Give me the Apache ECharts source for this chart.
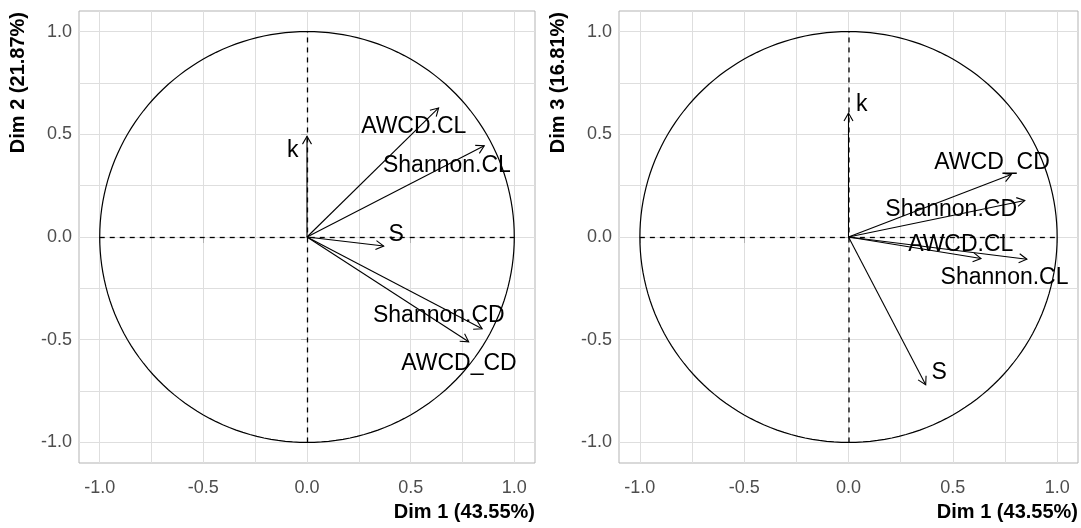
<!DOCTYPE html>
<html>
<head>
<meta charset="utf-8">
<script src="https://cdn.jsdelivr.net/npm/echarts@6/dist/echarts.min.js"></script>
<style>
html,body{margin:0;padding:0;background:#fff;}
#chart{width:1081px;height:528px;}
</style>
</head>
<body>
<div id="chart"></div>
<script>
// ---- data ----
const variables = ['k', 'AWCD.CL', 'Shannon.CL', 'S', 'Shannon.CD', 'AWCD_CD'];
const dim1 = [0.00, 0.635, 0.855, 0.37, 0.845, 0.78];
const dim2 = [0.49, 0.628, 0.444, -0.044, -0.447, -0.51];
const dim3 = [0.603, -0.105, -0.108, -0.719, 0.178, 0.304];
// label anchor positions (data units) as placed in the figure
const labelDim1Left = [-0.069, 0.515, 0.675, 0.43, 0.636, 0.733];
const labelDim2 = [0.42, 0.537, 0.345, 0.01, -0.385, -0.615];
const labelDim1Right = [0.064, 0.538, 0.748, 0.435, 0.492, 0.688];
const labelDim3 = [0.642, -0.036, -0.2, -0.662, 0.133, 0.362];
// axes
const majorTicks = [-1, -0.5, 0, 0.5, 1];
const minorTicks = [-0.75, -0.25, 0.25, 0.75];
const tickLabels = ['-1.0', '-0.5', '0.0', '0.5', '1.0'];
const xTitles = ['Dim 1 (43.55%)', 'Dim 1 (43.55%)'];
const yTitles = ['Dim 2 (21.87%)', 'Dim 3 (16.81%)'];
const axisMin = -1.1, axisMax = 1.1;

const FONT = 'Liberation Sans, Arial, sans-serif';
const gridValues = majorTicks.concat(minorTicks).sort((a, b) => a - b);

const chart = echarts.init(document.getElementById('chart'), null, {renderer: 'canvas'});

const grids = [
  {left: 79, top: 11, width: 456, height: 452},
  {left: 619, top: 11, width: 459, height: 452}
];

function mainAxis(g, pos) {
  return {
    gridIndex: g, type: 'value', min: axisMin, max: axisMax, position: pos,
    axisLine: {show: false},
    axisTick: {show: false, customValues: gridValues},
    axisLabel: {show: false},
    splitLine: {show: true, lineStyle: {color: '#dedede', width: 1}}
  };
}
function overlayAxis(g, pos) {
  return {
    gridIndex: g, type: 'value', min: axisMin, max: axisMax, position: pos, offset: 0,
    axisLine: {show: false},
    axisTick: {show: true, length: 6, customValues: majorTicks, lineStyle: {color: '#b3b3b3', width: 1}},
    axisLabel: {
      show: true, customValues: majorTicks,
      formatter: v => tickLabels[majorTicks.findIndex(t => Math.abs(t - v) < 1e-9)],
      color: '#4d4d4d', fontSize: 18, fontFamily: FONT,
      margin: pos === 'bottom' ? 16 : 7
    },
    splitLine: {show: false}
  };
}

const xAxes = [mainAxis(0, 'bottom'), overlayAxis(0, 'bottom'), mainAxis(1, 'bottom'), overlayAxis(1, 'bottom')];
const yAxes = [mainAxis(0, 'left'), overlayAxis(0, 'left'), mainAxis(1, 'left'), overlayAxis(1, 'left')];

function circleSeries(ai) {
  return {
    type: 'custom', xAxisIndex: ai, yAxisIndex: ai, silent: true, z: 3,
    data: [[0, 0]],
    renderItem: function (params, api) {
      const pts = [];
      for (let d = 0; d <= 360; d += 2) {
        const t = d * Math.PI / 180;
        pts.push(api.coord([Math.cos(t), Math.sin(t)]));
      }
      const h0 = api.coord([-1, 0]), h1 = api.coord([1, 0]);
      const v0 = api.coord([0, -1]), v1 = api.coord([0, 1]);
      return {
        type: 'group',
        children: [
          {type: 'polyline', shape: {points: pts}, style: {stroke: '#000', lineWidth: 1.2, fill: null}},
          {type: 'line', shape: {x1: h0[0], y1: h0[1] + 0.5, x2: h1[0], y2: h1[1] + 0.5},
            style: {stroke: '#000', lineWidth: 1.3, lineDash: [5, 5]}},
          {type: 'line', shape: {x1: v0[0] + 0.5, y1: v0[1], x2: v1[0] + 0.5, y2: v1[1]},
            style: {stroke: '#000', lineWidth: 1.3, lineDash: [5, 5]}}
        ]
      };
    }
  };
}

function arrowSeries(ai, xs, ys) {
  return {
    type: 'custom', xAxisIndex: ai, yAxisIndex: ai, silent: true, z: 4,
    data: xs.map((x, i) => [x, ys[i]]),
    encode: {x: 0, y: 1},
    renderItem: function (params, api) {
      const p0 = api.coord([0, 0]);
      const p1 = api.coord([api.value(0), api.value(1)]);
      const ang = Math.atan2(p1[1] - p0[1], p1[0] - p0[0]);
      const L = 9, a = Math.PI / 6;
      const hA = [p1[0] - L * Math.cos(ang - a), p1[1] - L * Math.sin(ang - a)];
      const hB = [p1[0] - L * Math.cos(ang + a), p1[1] - L * Math.sin(ang + a)];
      return {
        type: 'group',
        children: [
          {type: 'line', shape: {x1: p0[0], y1: p0[1], x2: p1[0], y2: p1[1]},
            style: {stroke: '#000', lineWidth: 1.1}},
          {type: 'polyline', shape: {points: [hA, p1, hB]},
            style: {stroke: '#000', lineWidth: 1.1, fill: null}}
        ]
      };
    }
  };
}

function labelSeries(ai, xs, ys) {
  return {
    type: 'custom', xAxisIndex: ai, yAxisIndex: ai, silent: true, z: 5,
    data: xs.map((x, i) => [x, ys[i], i]),
    encode: {x: 0, y: 1},
    renderItem: function (params, api) {
      const p = api.coord([api.value(0), api.value(1)]);
      return {
        type: 'text', x: p[0], y: p[1],
        style: {
          text: variables[api.value(2)], align: 'center', verticalAlign: 'middle',
          font: '23px ' + FONT, fill: '#000'
        }
      };
    }
  };
}

const option = {
  animation: false,
  backgroundColor: '#fff',
  grid: grids.map(g => Object.assign({show: true, borderColor: '#b3b3b3', borderWidth: 1, backgroundColor: 'transparent'}, g)),
  xAxis: xAxes,
  yAxis: yAxes,
  series: [
    circleSeries(0),
    arrowSeries(0, dim1, dim2),
    labelSeries(0, labelDim1Left, labelDim2),
    circleSeries(2),
    arrowSeries(2, dim1, dim3),
    labelSeries(2, labelDim1Right, labelDim3)
  ],
  graphic: [
    {type: 'text', x: 535, y: 512, style: {text: xTitles[0], align: 'right', verticalAlign: 'middle',
      font: 'bold 20px ' + FONT, fill: '#000'}},
    {type: 'text', x: 1078, y: 512, style: {text: xTitles[1], align: 'right', verticalAlign: 'middle',
      font: 'bold 20px ' + FONT, fill: '#000'}},
    {type: 'text', x: 18, y: 12, rotation: Math.PI / 2, style: {text: yTitles[0], align: 'right', verticalAlign: 'middle',
      font: 'bold 20px ' + FONT, fill: '#000'}},
    {type: 'text', x: 558, y: 12, rotation: Math.PI / 2, style: {text: yTitles[1], align: 'right', verticalAlign: 'middle',
      font: 'bold 20px ' + FONT, fill: '#000'}}
  ]
};
chart.setOption(option);
</script>
</body>
</html>
